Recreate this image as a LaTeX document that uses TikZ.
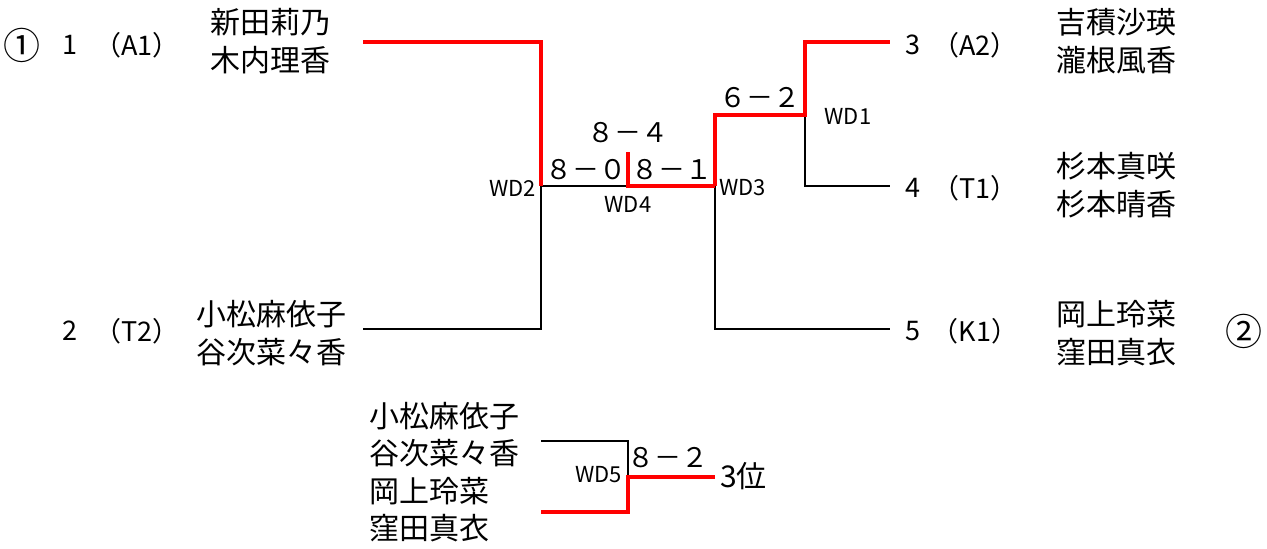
\documentclass[tikz,border=0pt]{standalone}
\usepackage{fontspec}
\setmainfont{Noto Sans CJK JP}
\begin{document}
\begin{tikzpicture}[x=1pt,y=-1pt,
  win/.style={red, line width=4.5pt},
  lose/.style={black, line width=2.2pt},
  pname/.style={font=\fontsize{30}{38}\selectfont, align=left, inner sep=0pt, anchor=west},
  seedl/.style={font=\fontsize{27}{30}\selectfont, inner sep=0pt},
  circl/.style={font=\fontsize{37}{40}\selectfont, inner sep=0pt},
  scorel/.style={font=\fontsize{27}{30}\selectfont, inner sep=0pt},
  wdl/.style={font=\fontsize{22}{24}\selectfont, inner sep=0pt}]
\useasboundingbox (0,0) rectangle (1267,549);
% bracket points
\coordinate (e1) at (363,42);
\coordinate (c1) at (541,42);
\coordinate (wd2) at (541,186);
\coordinate (e2) at (363,329);
\coordinate (c2) at (541,329);
\coordinate (wd4) at (628,186);
\coordinate (t4) at (628,152);
\coordinate (wd3) at (715,186);
\coordinate (c3a) at (715,115);
\coordinate (wd1) at (805,115);
\coordinate (c3) at (805,42);
\coordinate (e3) at (890,42);
\coordinate (c4) at (805,186);
\coordinate (e4) at (890,186);
\coordinate (c5) at (715,329);
\coordinate (e5) at (890,329);
\coordinate (b1) at (541,441);
\coordinate (bc1) at (628,441);
\coordinate (wd5) at (628,477);
\coordinate (b2) at (541,512);
\coordinate (bc2) at (628,512);
\coordinate (b3) at (715,477);
% losing lines
\draw[lose] (e2) -- (c2) -- (wd2);
\draw[lose] (wd2) -- (wd4);
\draw[lose] (wd3) -- (c5) -- (e5);
\draw[lose] (wd1) -- (c4) -- (e4);
\draw[lose] (b1) -- (bc1) -- (wd5);
% winning lines
\draw[win] (e1) -- (c1) -- (wd2);
\draw[win] (t4) -- (wd4) -- (wd3);
\draw[win] (wd3) -- (c3a) -- (wd1) -- (c3) -- (e3);
\draw[win] (b2) -- (bc2) -- (wd5) -- (b3);
% left side
\node[circl] (r1) at (22,45) {①};
\node[seedl] (s1) at (70,45) {1};
\node[seedl] (k1) at (137,45) {（A1）};
\node[pname] (n1) at (210,41) {新田莉乃\\木内理香};
\node[seedl] (s2) at (70,331) {2};
\node[seedl] (k2) at (137,331) {（T2）};
\node[pname] (n2) at (196,333) {小松麻依子\\谷次菜々香};
% right side
\node[seedl] (s3) at (913,45) {3};
\node[seedl] (k3) at (975,45) {（A2）};
\node[pname] (n3) at (1056,41) {吉積沙瑛\\瀧根風香};
\node[seedl] (s4) at (913,188) {4};
\node[seedl] (k4) at (975,188) {（T1）};
\node[pname] (n4) at (1056,185) {杉本真咲\\杉本晴香};
\node[seedl] (s5) at (913,331) {5};
\node[seedl] (k5) at (975,331) {（K1）};
\node[pname] (n5) at (1056,333) {岡上玲菜\\窪田真衣};
\node[circl] (r2) at (1244,331) {②};
% scores
\node[scorel] (sc1) at (586,170) {８－０};
\node[scorel] (sc2) at (628,133) {８－４};
\node[scorel] (sc3) at (672,170) {８－１};
\node[scorel] (sc4) at (760,98) {６－２};
\node[wdl, anchor=east] (l2) at (536,188) {WD2};
\node[wdl] (l4) at (628,204) {WD4};
\node[wdl, anchor=west] (l3) at (719,188) {WD3};
\node[wdl] (l1) at (848,116) {WD1};
% third place
\node[pname, font=\fontsize{30}{37.5}\selectfont] (nb) at (369,472) {小松麻依子\\谷次菜々香\\岡上玲菜\\窪田真衣};
\node[wdl, anchor=east] (l5) at (622,475) {WD5};
\node[scorel] (sc5) at (668,458) {８－２};
\node[pname] (third) at (720,476) {3位};
\end{tikzpicture}
\end{document}
